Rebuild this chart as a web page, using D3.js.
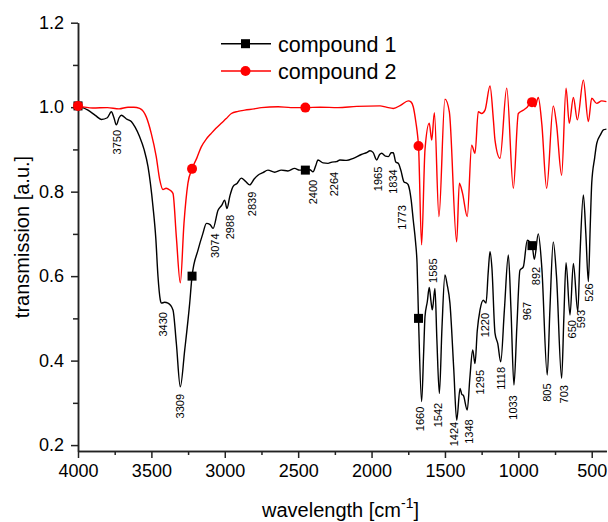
<!DOCTYPE html>
<meta charset="utf-8">
<head>
  <title>IR spectra</title>
  <style>
    body { margin: 0; background: #fff; }
    svg text { font-family: "Liberation Sans", Arial, sans-serif; fill: #000; }
  </style>
  <script src="https://d3js.org/d3.v7.min.js"></script>
</head>
<body>
  <div id="content"></div>
  <script>
    // spectrum of compound 1: [wavenumber, transmission]
    var compound1 = [
      [4000, 1.003], [3932, 0.993], [3880, 0.980], [3841, 0.971], [3800, 0.975],
      [3773, 0.989], [3755, 0.975], [3739, 0.958], [3720, 0.975], [3705, 0.981],
      [3670, 0.972], [3637, 0.966], [3610, 0.952], [3580, 0.930], [3550, 0.900],
      [3523, 0.859], [3489, 0.764], [3470, 0.690], [3455, 0.599], [3440, 0.545],
      [3432, 0.536], [3410, 0.538], [3387, 0.536], [3353, 0.520], [3330, 0.441],
      [3303, 0.338], [3273, 0.425], [3239, 0.536], [3223, 0.600], [3182, 0.662],
      [3150, 0.700], [3125, 0.725], [3100, 0.722], [3080, 0.713], [3046, 0.756],
      [3020, 0.768], [3001, 0.780], [2985, 0.760], [2965, 0.790], [2944, 0.812],
      [2915, 0.820], [2887, 0.832], [2860, 0.825], [2830, 0.816], [2800, 0.830],
      [2774, 0.839], [2740, 0.845], [2706, 0.851], [2660, 0.846], [2615, 0.851],
      [2570, 0.849], [2524, 0.855], [2490, 0.851], [2451, 0.851], [2420, 0.852],
      [2399, 0.847], [2380, 0.862], [2365, 0.875], [2330, 0.868], [2297, 0.867],
      [2270, 0.870], [2240, 0.871], [2215, 0.875], [2170, 0.874], [2124, 0.879],
      [2070, 0.888], [2030, 0.893], [2011, 0.897], [1990, 0.893], [1965, 0.875],
      [1945, 0.888], [1931, 0.891], [1905, 0.884], [1886, 0.883], [1866, 0.892],
      [1852, 0.892], [1835, 0.870], [1818, 0.867], [1800, 0.850], [1779, 0.823],
      [1760, 0.820], [1750, 0.816], [1730, 0.780], [1716, 0.733], [1700, 0.680],
      [1690, 0.630], [1680, 0.500], [1659, 0.303], [1645, 0.420], [1636, 0.504],
      [1620, 0.540], [1607, 0.573], [1595, 0.540], [1586, 0.520], [1568, 0.571],
      [1555, 0.450], [1538, 0.322], [1520, 0.480], [1500, 0.603], [1485, 0.580],
      [1466, 0.536], [1440, 0.380], [1420, 0.259], [1397, 0.334], [1385, 0.320],
      [1375, 0.318], [1348, 0.283], [1330, 0.360], [1311, 0.425], [1295, 0.393],
      [1280, 0.470], [1261, 0.520], [1239, 0.543], [1220, 0.536], [1205, 0.610],
      [1193, 0.658], [1180, 0.620], [1159, 0.465], [1140, 0.440], [1120, 0.397],
      [1095, 0.520], [1068, 0.650], [1050, 0.520], [1030, 0.342], [1010, 0.480],
      [989, 0.614], [966, 0.622], [939, 0.685], [920, 0.680], [905, 0.671],
      [891, 0.640], [864, 0.700], [840, 0.620], [803, 0.366], [785, 0.520],
      [762, 0.681], [740, 0.600], [705, 0.358], [690, 0.500], [675, 0.632],
      [648, 0.508], [625, 0.630], [595, 0.516], [580, 0.650], [557, 0.792],
      [540, 0.700], [523, 0.587], [510, 0.720], [500, 0.820], [480, 0.880],
      [466, 0.914], [440, 0.935], [421, 0.946], [400, 0.948]
    ];

    // spectrum of compound 2
    var compound2 = [
      [4000, 1.003], [3900, 0.998], [3800, 0.999], [3720, 0.996], [3659, 1.000],
      [3620, 1.000], [3580, 0.997], [3555, 0.990], [3535, 0.977], [3501, 0.938],
      [3467, 0.883], [3443, 0.828], [3421, 0.805], [3400, 0.808], [3375, 0.804],
      [3353, 0.796], [3330, 0.693], [3303, 0.584], [3278, 0.725], [3251, 0.820],
      [3223, 0.854], [3190, 0.880], [3160, 0.906], [3125, 0.925], [3092, 0.938],
      [3060, 0.950], [3024, 0.962], [2990, 0.973], [2955, 0.985], [2910, 0.990],
      [2864, 0.993], [2800, 0.996], [2751, 0.999], [2637, 1.001], [2550, 0.999],
      [2451, 0.999], [2350, 1.000], [2229, 0.999], [2100, 1.002], [1942, 1.003],
      [1900, 1.000], [1852, 0.997], [1800, 1.005], [1750, 1.015], [1730, 1.012],
      [1716, 1.001], [1697, 0.962], [1686, 0.932], [1680, 0.908], [1659, 0.674],
      [1636, 0.899], [1607, 0.962], [1590, 0.922], [1572, 0.987], [1541, 0.741],
      [1500, 1.019], [1470, 0.989], [1420, 0.681], [1402, 0.820], [1380, 0.796],
      [1348, 0.741], [1318, 0.910], [1295, 0.891], [1273, 0.989], [1250, 0.985],
      [1227, 0.993], [1193, 1.050], [1170, 0.970], [1159, 0.922], [1125, 0.879],
      [1079, 1.045], [1034, 0.808], [1000, 0.985], [966, 0.993], [940, 1.000],
      [909, 1.013], [886, 1.001], [864, 1.023], [840, 0.960], [807, 0.808],
      [762, 1.003], [740, 0.960], [705, 0.839], [675, 1.045], [653, 0.962],
      [625, 1.023], [598, 0.970], [557, 1.064], [523, 0.966], [500, 1.021],
      [466, 1.009], [432, 1.015], [400, 1.013]
    ];

    // wavenumbers where the series symbols sit
    var markerWn = [4000, 3223, 2451, 1680, 907];

    // peak annotations: text, wavenumber of label, transmission at label top
    var peakText = ['3750', '3430', '3309', '3074', '2988', '2839', '2400', '2264',
      '1965', '1834', '1773', '1585', '1660', '1542', '1424', '1348', '1295',
      '1220', '1118', '1033', '967', '892', '805', '703', '650', '593', '526'];
    var peakWn = [3736, 3421, 3305, 3067, 2961, 2815, 2399, 2256,
      1956, 1854, 1793, 1581, 1668, 1547, 1434, 1338, 1258,
      1229, 1116, 1036, 941, 880, 801, 689, 634, 573, 518];
    var peakTop = [0.946, 0.515, 0.321, 0.701, 0.745, 0.800, 0.828, 0.847,
      0.859, 0.853, 0.768, 0.642, 0.291, 0.300, 0.255, 0.261, 0.378,
      0.513, 0.385, 0.318, 0.539, 0.622, 0.346, 0.342, 0.496, 0.520, 0.583];

    var xMajor = [4000, 3500, 3000, 2500, 2000, 1500, 1000, 500];
    var xMinor = [3750, 3250, 2750, 2250, 1750, 1250, 750];
    var yMajor = [0.2, 0.4, 0.6, 0.8, 1.0, 1.2];
    var yMinor = [0.3, 0.5, 0.7, 0.9, 1.1];

    var width = 608, height = 522;

    var svg = d3.select('#content').append('svg')
      .attr('width', width)
      .attr('height', height);

    var x = d3.scaleLinear().domain([4000, 400]).range([78, 606.4]);
    var y = d3.scaleLinear().domain([0.186, 1.2]).range([451, 22.7]);

    // axes
    var axisColor = '#222';
    function styleAxis(g) {
      g.selectAll('path, line').attr('stroke', axisColor).attr('stroke-width', 1.5);
      g.selectAll('text').attr('fill', '#000');
    }

    svg.append('g')
      .attr('transform', 'translate(0,451)')
      .call(d3.axisBottom(x).tickValues(xMinor).tickSize(4).tickSizeOuter(0).tickFormat(''))
      .call(styleAxis);
    svg.append('g')
      .attr('transform', 'translate(0,451)')
      .call(d3.axisBottom(x).tickValues(xMajor).tickSize(7).tickSizeOuter(0).tickPadding(6)
        .tickFormat(d3.format('d')))
      .call(styleAxis)
      .selectAll('text').style('font-size', '18px');

    svg.append('g')
      .attr('transform', 'translate(78,0)')
      .call(d3.axisLeft(y).tickValues(yMinor).tickSize(5).tickSizeOuter(0).tickFormat(''))
      .call(styleAxis);
    svg.append('g')
      .attr('transform', 'translate(78,0)')
      .call(d3.axisLeft(y).tickValues(yMajor).tickSize(7).tickSizeOuter(0).tickPadding(7)
        .tickFormat(d3.format('.1f')))
      .call(styleAxis)
      .selectAll('text').style('font-size', '18px');

    // axis titles
    svg.append('text')
      .attr('transform', 'translate(29,237) rotate(-90)')
      .attr('text-anchor', 'middle')
      .style('font-size', '20px')
      .text('transmission [a.u.]');

    var xt = svg.append('text')
      .attr('x', 262)
      .attr('y', 517)
      .style('font-size', '20px');
    xt.append('tspan').text('wavelength [cm');
    xt.append('tspan').attr('dy', -9).style('font-size', '14px').text('-1');
    xt.append('tspan').attr('dy', 9).text(']');

    // spectra
    var line = d3.line()
      .x(function (d) { return x(d[0]); })
      .y(function (d) { return y(d[1]); })
      .curve(d3.curveMonotoneX);

    function valueAt(data, wn) {
      var asc = data.slice().reverse();
      var i = d3.bisector(function (d) { return d[0]; }).left(asc, wn);
      if (i <= 0) return asc[0][1];
      if (i >= asc.length) return asc[asc.length - 1][1];
      var a = asc[i - 1], b = asc[i];
      return a[1] + (b[1] - a[1]) * (wn - a[0]) / (b[0] - a[0]);
    }

    svg.append('path')
      .datum(compound1)
      .attr('fill', 'none')
      .attr('stroke', '#000')
      .attr('stroke-width', 1.4)
      .attr('d', line);

    svg.selectAll('.sq')
      .data(markerWn)
      .enter().append('rect')
      .attr('x', function (d) { return x(d) - 4.5; })
      .attr('y', function (d) { return y(valueAt(compound1, d)) - 4.5; })
      .attr('width', 9)
      .attr('height', 9)
      .attr('fill', '#000');

    svg.append('path')
      .datum(compound2)
      .attr('fill', 'none')
      .attr('stroke', '#ff0000')
      .attr('stroke-width', 1.4)
      .attr('d', line);

    svg.selectAll('.ci')
      .data(markerWn)
      .enter().append('circle')
      .attr('cx', function (d) { return x(d); })
      .attr('cy', function (d) { return y(valueAt(compound2, d)); })
      .attr('r', 5)
      .attr('fill', '#ff0000');

    // peak labels
    svg.selectAll('.peak')
      .data(peakText)
      .enter().append('text')
      .attr('transform', function (d, i) {
        return 'translate(' + x(peakWn[i]) + ',' + y(peakTop[i]) + ') rotate(-90)';
      })
      .attr('text-anchor', 'end')
      .attr('dy', '0.35em')
      .style('font-size', '11px')
      .text(function (d) { return d; });

    // legend
    var legend = svg.append('g');
    legend.append('line')
      .attr('x1', 221).attr('x2', 271).attr('y1', 43.7).attr('y2', 43.7)
      .attr('stroke', '#000').attr('stroke-width', 1.4);
    legend.append('rect')
      .attr('x', 241).attr('y', 39.2).attr('width', 9).attr('height', 9)
      .attr('fill', '#000');
    legend.append('text')
      .attr('x', 278).attr('y', 51.5)
      .style('font-size', '21.5px')
      .text('compound 1');

    legend.append('line')
      .attr('x1', 221).attr('x2', 271).attr('y1', 71).attr('y2', 71)
      .attr('stroke', '#ff0000').attr('stroke-width', 1.4);
    legend.append('circle')
      .attr('cx', 245.5).attr('cy', 71).attr('r', 5)
      .attr('fill', '#ff0000');
    legend.append('text')
      .attr('x', 278).attr('y', 78.8)
      .style('font-size', '21.5px')
      .text('compound 2');
  </script>
</body>
</html>
